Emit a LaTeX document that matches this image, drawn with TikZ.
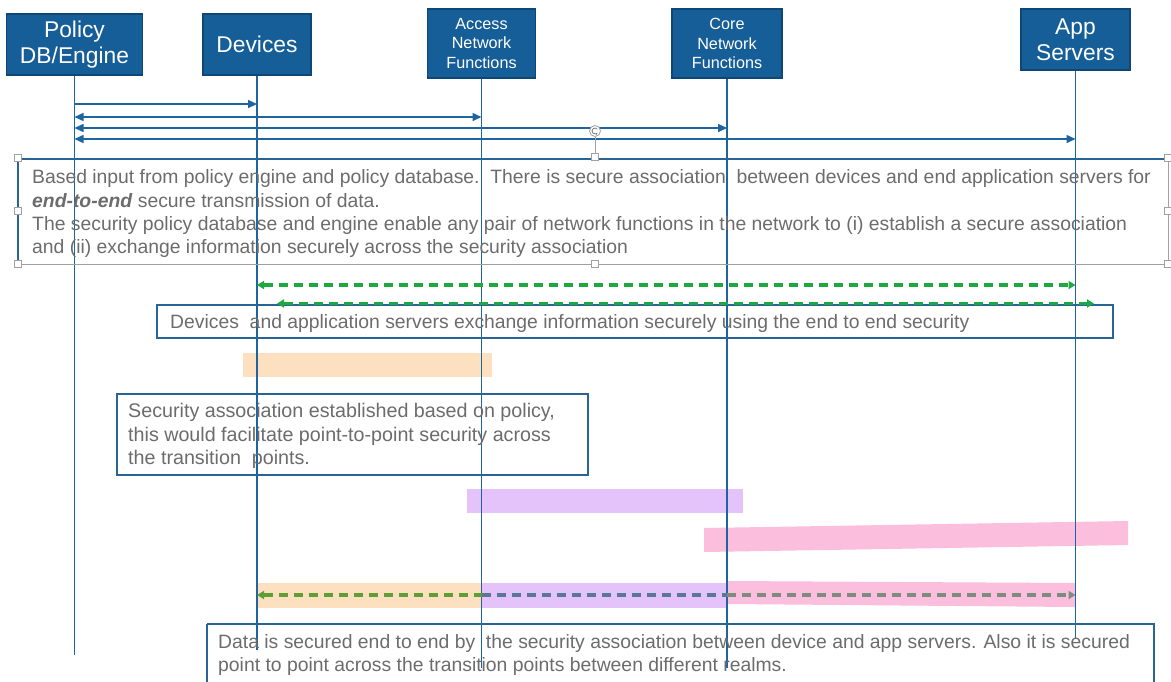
\documentclass[tikz,border=0pt]{standalone}
\usepackage{fontspec}
\setmainfont{Liberation Sans}
\usetikzlibrary{arrows.meta}
\definecolor{hdr}{RGB}{22,94,151}
\definecolor{hdrborder}{RGB}{14,70,118}
\definecolor{life}{RGB}{30,100,160}
\definecolor{txt}{RGB}{108,108,108}
\definecolor{grn}{RGB}{28,170,64}
\definecolor{grn2}{RGB}{95,158,55}
\definecolor{slate}{RGB}{92,118,150}
\definecolor{graygreen}{RGB}{125,140,125}
\definecolor{peach}{RGB}{253,224,192}
\definecolor{lilac}{RGB}{228,194,250}
\definecolor{pinkbar}{RGB}{251,190,221}
\definecolor{boxblue}{RGB}{40,100,150}
\definecolor{selgray}{RGB}{160,160,160}
\tikzset{
  hdrbox/.style={draw=hdrborder, line width=1.2pt, fill=hdr, text=white, align=center, inner sep=0pt},
  bigtxt/.style={font=\fontsize{22.8}{26}\selectfont},
  smalltxt/.style={font=\fontsize{16.2}{19.5}\selectfont},
  lifeline/.style={draw=life, line width=1.4pt},
  msg/.style={draw=life, line width=1.5pt},
  tip/.style={-{Triangle[length=9pt,width=8pt]}},
  dtip/.style={{Triangle[length=9pt,width=8pt]}-{Triangle[length=9pt,width=8pt]}},
  gdash/.style={line width=3.2pt, dash pattern=on 9pt off 6pt},
  gtip/.style={{Triangle[length=7pt,width=8pt]}-{Triangle[length=7pt,width=8pt]}},
  note/.style={draw=boxblue, line width=1.3pt},
  line/.style={anchor=base west, inner sep=0pt, text=txt, font=\fontsize{19.35}{22}\selectfont},
  handle/.style={draw=selgray, fill=white, line width=0.8pt, minimum size=7pt, inner sep=0pt},
}
\begin{document}
\begin{tikzpicture}[x=1pt,y=-1pt]
\useasboundingbox[fill=white] (0,0) rectangle (1171,681);

% colour bars
\fill[peach] (243,353) rectangle (492,377);
\fill[lilac] (467,489) rectangle (743,513);
\fill[pinkbar] (704,528) -- (1128,521) -- (1128,545) -- (704,552) -- cycle;
\fill[peach] (257,583) rectangle (482,608);
\fill[lilac] (482,583) rectangle (727,608);
\fill[pinkbar] (727,581) -- (1075,583) -- (1075,607) -- (727,604) -- cycle;

% headers
\node[hdrbox, bigtxt, minimum width=136pt, minimum height=61pt] (pol) at (74.5,44.5) {Policy\\DB/Engine};
\node[hdrbox, bigtxt, minimum width=108pt, minimum height=61pt] (dev) at (257,44.5) {Devices};
\node[hdrbox, smalltxt, minimum width=108pt, minimum height=69pt] (acc) at (481.5,43.5) {Access\\Network\\Functions};
\node[hdrbox, smalltxt, minimum width=110pt, minimum height=69pt] (core) at (727,43.5) {Core\\Network\\Functions};
\node[hdrbox, bigtxt, minimum width=109pt, minimum height=61pt] (app) at (1075.5,39.5) {App\\Servers};

% lifeline ends
\coordinate (polE) at (74.5,655);
\coordinate (devE) at (257,650);
\coordinate (accE) at (481.5,668);
\coordinate (coreE) at (727,668);
\coordinate (appE) at (1075.5,638);
\draw[lifeline] (pol.south) -- (polE);
\draw[lifeline] (dev.south) -- (devE);
\draw[lifeline] (acc.south) -- (accE);
\draw[lifeline] (core.south) -- (coreE);
\draw[lifeline] (app.south) -- (appE);

% policy messages
\coordinate (m1a) at (74.5,104); \coordinate (m1b) at (257,104);
\coordinate (m2a) at (74.5,117); \coordinate (m2b) at (481.5,117);
\coordinate (m3a) at (74.5,128); \coordinate (m3b) at (727,128);
\coordinate (m4a) at (74.5,139); \coordinate (m4b) at (1075.5,139);
\draw[msg, tip] (m1a) -- (m1b);
\draw[msg, dtip] (m2a) -- (m2b);
\draw[msg, dtip] (m3a) -- (m3b);
\draw[msg, dtip] (m4a) -- (m4b);

% text box 1 (selected)
\draw[boxblue, line width=1.3pt] (18,264) -- (18,159) -- (1168,159);
\draw[selgray, line width=1pt] (18,264) -- (1168,264) -- (1168,159);
\node[draw=selgray, fill=white, circle, minimum size=11pt, inner sep=0pt, line width=0.8pt] (rot) at (595,131) {};
\draw[selgray, line width=0.6pt] (rot.south) -- (595,154);
\draw[txt, line width=0.7pt, -{Stealth[length=2pt]}] ([shift={(40:3pt)}]rot.center) arc[start angle=40, end angle=320, radius=3pt];
\foreach \n/\p in {h1/{18,158},h2/{595,157},h3/{1168,158},h4/{18,211},h5/{1168,211},h6/{18,264},h7/{595,264},h8/{1168,264}}
  \node[handle] (\n) at (\p) {};

\node[line] (t1a) at (32,183) {Based input from policy engine and policy database.\ \ There is secure association\ \ between devices and end application servers for};
\node[line] (t1b) at (32,207) {\textbf{\textit{end-to-end}} secure transmission of data.};
\node[line] (t1c) at (32,230) {The security policy database and engine enable any pair of network functions in the network to (i) establish a secure association};
\node[line] (t1d) at (32,253) {and (ii) exchange information securely across the security association};

% box 2
\draw[note] (157,305) rectangle (1113,338);
\node[line] (t2) at (170,328) {Devices\ \ and application servers exchange information securely using the end to end security};

% green end-to-end arrows
\coordinate (g1a) at (257,285); \coordinate (g1b) at (1075.5,285);
\coordinate (g2a) at (277,303.5); \coordinate (g2b) at (1094,303.5);
\draw[grn, gdash, gtip] (g1a) -- (g1b);
\draw[grn, gdash, gtip] (g2a) -- (g2b);

% box 3
\draw[note] (117,394) rectangle (588,475);
\node[line, font=\fontsize{19.7}{22}\selectfont] (t3a) at (128,417) {Security association established based on policy,};
\node[line, font=\fontsize{19.7}{22}\selectfont] (t3b) at (128,441) {this would facilitate point-to-point security across};
\node[line, font=\fontsize{19.7}{22}\selectfont] (t3c) at (128,464) {the transition\ \ points.};

% bottom dashed arrow in three colours
\coordinate (b0) at (257,595); \coordinate (b1) at (481.5,595);
\coordinate (b2) at (727,595); \coordinate (b3) at (1075.5,595);
\draw[grn2, gdash, {Triangle[length=7pt,width=8pt]}-] (b0) -- (b1);
\draw[slate, gdash] (b1) -- (b2);
\draw[graygreen, gdash, -{Triangle[length=7pt,width=8pt]}] (b2) -- (b3);

% bottom box
\draw[note] (207,624) -- (1154,624) -- (1154,690);
\draw[note] (207,624) -- (207,690);
\node[line] (t4a) at (218,648) {Data is secured end to end by\ \ the security association between device and app servers. Also it is secured};
\node[line] (t4b) at (218,671) {point to point across the transition points between different realms.};
\end{tikzpicture}
\end{document}
